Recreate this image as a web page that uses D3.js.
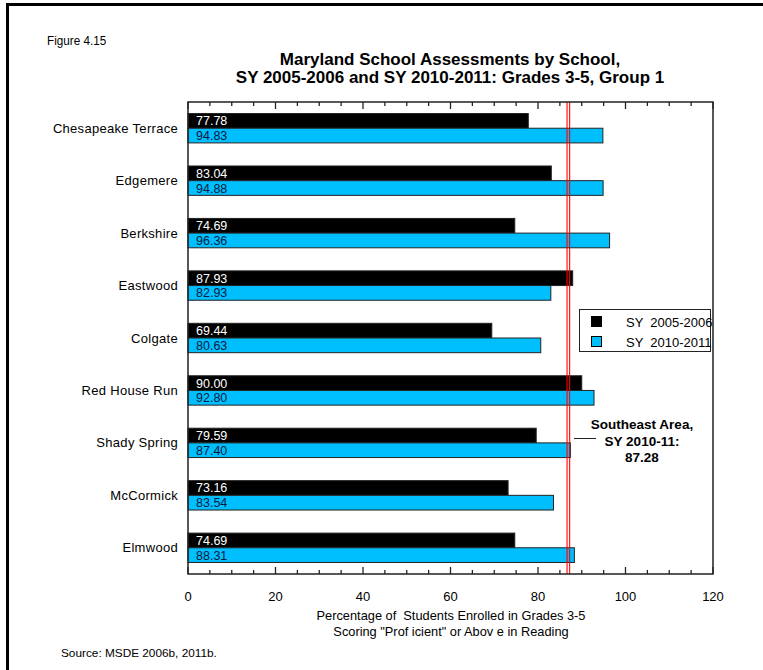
<!DOCTYPE html>
<html><head><meta charset="utf-8">
<script src="https://cdn.jsdelivr.net/npm/d3@7"></script>
<style>
html,body{margin:0;padding:0;background:#fff;}
svg{display:block;font-family:"Liberation Sans",Arial,sans-serif;}
svg text{white-space:pre;}
</style></head>
<body>
<svg id="chart" width="763" height="670"></svg>
<script>
const schools = ["Chesapeake Terrace","Edgemere","Berkshire","Eastwood","Colgate","Red House Run","Shady Spring","McCormick","Elmwood"];
const sy2006 = [77.78,83.04,74.69,87.93,69.44,90.00,79.59,73.16,74.69];
const sy2011 = [94.83,94.88,96.36,82.93,80.63,92.80,87.40,83.54,88.31];
const seriesNames = ["SY  2005-2006","SY  2010-2011"];
const seriesColors = ["#000000","#00bfff"];
const xTicks = [0,20,40,60,80,100,120];
const minorTicks = d3.range(0,121,5);
const areaValue = 87.28;
const titleLines = ["Maryland School Assessments by School,","SY 2005-2006 and SY 2010-2011: Grades 3-5, Group 1"];
const xTitleLines = ["Percentage of  Students Enrolled in Grades 3-5","Scoring \"Prof icient\" or Abov e in Reading"];
const annotLines = ["Southeast Area,","SY 2010-11:","87.28"];

const svg = d3.select("#chart");
const L=188, R=713, T=102, B=574;
const x = d3.scaleLinear().domain([0,120]).range([L,R]);
const y = d3.scaleBand().domain(schools).range([T,B]).paddingInner(0.44).paddingOuter(0.22);
const sub = d3.scaleBand().domain([0,1]).range([0,y.bandwidth()]);

// outer frame
svg.append("line").attr("x1",7.5).attr("x2",7.5).attr("y1",3).attr("y2",670).attr("stroke","#000").attr("stroke-width",3);
svg.append("line").attr("x1",6).attr("x2",763).attr("y1",4.5).attr("y2",4.5).attr("stroke","#000").attr("stroke-width",3);

svg.append("text").attr("x",47).attr("y",45).attr("font-size",13).attr("transform","translate(47,45) scale(0.9,1) translate(-47,-45)").text("Figure 4.15");
titleLines.forEach((t,i)=>svg.append("text").attr("x",450).attr("y",65+i*18).attr("text-anchor","middle")
  .attr("font-size",17).attr("font-weight","bold").text(t));

// bars
const g = svg.append("g");
schools.forEach((s,i)=>{
  [sy2006[i],sy2011[i]].forEach((v,j)=>{
    g.append("rect").attr("x",x(0)).attr("y",y(s)+sub(j)).attr("width",x(v)-x(0)).attr("height",sub.bandwidth())
      .attr("fill",seriesColors[j]).attr("stroke","#222").attr("stroke-width",1);
    g.append("text").attr("x",x(0)+8).attr("y",y(s)+sub(j)+sub.bandwidth()/2+4.5).attr("font-size",12.5)
      .attr("fill",j===0?"#fff":"#0a1a3a").text(v.toFixed(2));
  });
  svg.append("text").attr("x",178).attr("y",y(s)+y.bandwidth()/2+4.5).attr("text-anchor","end").attr("font-size",13)
    .attr("letter-spacing",0.3).text(s);
});

// reference double red line
const rx = x(areaValue)-1.5;
[rx-1.3, rx+1.3].forEach(xx=>svg.append("line").attr("x1",xx).attr("x2",xx).attr("y1",T).attr("y2",B).attr("stroke","#ff0000").attr("stroke-width",1.1));

// plot frame
svg.append("rect").attr("x",L).attr("y",T).attr("width",R-L).attr("height",B-T).attr("fill","none").attr("stroke","#222").attr("stroke-width",1.5);

// ticks
minorTicks.forEach(t=>{
  const len = (t%20===0)?7:4;
  svg.append("line").attr("x1",x(t)).attr("x2",x(t)).attr("y1",T).attr("y2",T+len).attr("stroke","#222").attr("stroke-width",1.3);
  svg.append("line").attr("x1",x(t)).attr("x2",x(t)).attr("y1",B).attr("y2",B-len).attr("stroke","#222").attr("stroke-width",1.3);
});
xTicks.forEach(t=>svg.append("text").attr("x",x(t)).attr("y",601).attr("text-anchor","middle").attr("font-size",13).text(t));
xTitleLines.forEach((t,i)=>svg.append("text").attr("x",451).attr("y",620+i*16).attr("text-anchor","middle").attr("font-size",12.8).text(t));

svg.append("text").attr("x",61).attr("y",657).attr("font-size",11.8).text("Source: MSDE 2006b, 2011b.");

// legend
const lg = svg.append("g");
lg.append("rect").attr("x",579.5).attr("y",309.5).attr("width",131).attr("height",42).attr("fill","#fff").attr("stroke","#222").attr("stroke-width",1);
seriesNames.forEach((n,j)=>{
  lg.append("rect").attr("x",591.5).attr("y",316.5+j*20).attr("width",10).attr("height",10).attr("fill",seriesColors[j]).attr("stroke","#000");
  lg.append("text").attr("x",626).attr("y",326.5+j*20).attr("font-size",13).text(n);
});

// annotation
svg.append("line").attr("x1",574).attr("x2",596).attr("y1",438.5).attr("y2",438.5).attr("stroke","#222").attr("stroke-width",1);
annotLines.forEach((t,i)=>svg.append("text").attr("x",642).attr("y",429+i*16.5).attr("text-anchor","middle").attr("font-size",13.5).attr("font-weight","bold").text(t));
</script>
</body></html>
